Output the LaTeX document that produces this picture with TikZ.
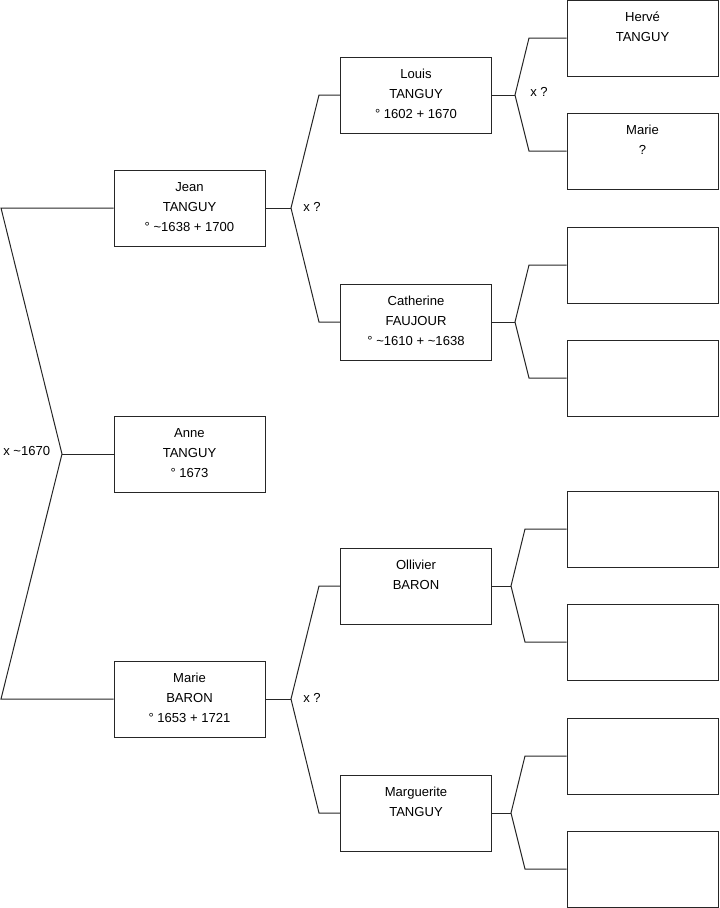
\documentclass[tikz,border=0pt]{standalone}
\usepackage{fontspec}
\setmainfont{Liberation Sans}
\begin{document}
\begin{tikzpicture}[x=0.75pt,y=-0.75pt,
  person/.style={draw=black!85,line width=0.75pt,rectangle,inner sep=0pt,
    minimum width=113.25pt,minimum height=57pt},
  txt/.style={anchor=base,align=center,inner sep=0pt,
    font=\fontsize{9.8pt}{15pt}\selectfont},
  marr/.style={anchor=west,inner sep=0pt,font=\fontsize{9.8pt}{15pt}\selectfont},
  link/.style={draw=black!85,line width=0.75pt}]
\useasboundingbox (0,0) rectangle (719,908);
% generation 1
\node[person] (jean) at (189.5,208) {};
\node[person] (anne) at (189.5,454) {};
\node[person] (marieb) at (189.5,699) {};
% generation 2
\node[person] (louis) at (416,95) {};
\node[person] (cath) at (416,322) {};
\node[person] (oll) at (416,586) {};
\node[person] (marg) at (416,813) {};
% generation 3
\node[person] (herve) at (642.5,38) {};
\node[person] (mariq) at (642.5,151) {};
\node[person] (r3) at (642.5,265) {};
\node[person] (r4) at (642.5,378) {};
\node[person] (r5) at (642.5,529) {};
\node[person] (r6) at (642.5,642) {};
\node[person] (r7) at (642.5,756) {};
\node[person] (r8) at (642.5,869) {};
% texts (base anchor = last line baseline)
\node[txt] (tjean) at ([yshift=-61.5*0.75pt]jean.north) {Jean\\TANGUY\\° \textasciitilde1638 + 1700};
\node[txt] (tanne) at ([yshift=-61.5*0.75pt]anne.north) {Anne\\TANGUY\\° 1673};
\node[txt] (tmarieb) at ([yshift=-61.5*0.75pt]marieb.north) {Marie\\BARON\\° 1653 + 1721};
\node[txt] (tlouis) at ([yshift=-61.5*0.75pt]louis.north) {Louis\\TANGUY\\° 1602 + 1670};
\node[txt] (tcath) at ([yshift=-61.5*0.75pt]cath.north) {Catherine\\FAUJOUR\\° \textasciitilde1610 + \textasciitilde1638};
\node[txt] (toll) at ([yshift=-41.5*0.75pt]oll.north) {Ollivier\\BARON};
\node[txt] (tmarg) at ([yshift=-41.5*0.75pt]marg.north) {Marguerite\\TANGUY};
\node[txt] (therve) at ([yshift=-42*0.75pt]herve.north) {Hervé\\TANGUY};
\node[txt] (tmariq) at ([yshift=-41.5*0.75pt]mariq.north) {Marie\\?};
% junction coordinates
\coordinate (L1) at (1,208);
\coordinate (Lm) at (62,454);
\coordinate (L2) at (1,699);
\coordinate (ja) at (291,208);
\coordinate (jb) at (319,95);
\coordinate (jc) at (319,322);
\coordinate (ma) at (291,699);
\coordinate (mb) at (319,586);
\coordinate (mc) at (319,813);
\coordinate (la) at (515,95);
\coordinate (lb) at (529,38);
\coordinate (lc) at (529,151);
\coordinate (ca) at (515,322);
\coordinate (cb) at (529,265);
\coordinate (cc) at (529,378);
\coordinate (oa) at (511,586);
\coordinate (ob) at (525,529);
\coordinate (oc) at (525,642);
\coordinate (ga) at (511,813);
\coordinate (gb) at (525,756);
\coordinate (gc) at (525,869);
% connectors
\draw[link] (jean.west) -- (L1) -- (Lm) -- (L2) -- (marieb.west);
\draw[link] (Lm) -- (anne.west);
\draw[link] (jean.east) -- (ja);
\draw[link] (louis.west) -- (jb) -- (ja) -- (jc) -- (cath.west);
\draw[link] (marieb.east) -- (ma);
\draw[link] (oll.west) -- (mb) -- (ma) -- (mc) -- (marg.west);
\draw[link] (louis.east) -- (la);
\draw[link] (herve.west) -- (lb) -- (la) -- (lc) -- (mariq.west);
\draw[link] (cath.east) -- (ca);
\draw[link] (r3.west) -- (cb) -- (ca) -- (cc) -- (r4.west);
\draw[link] (oll.east) -- (oa);
\draw[link] (r5.west) -- (ob) -- (oa) -- (oc) -- (r6.west);
\draw[link] (marg.east) -- (ga);
\draw[link] (r7.west) -- (gb) -- (ga) -- (gc) -- (r8.west);
% marriage labels
\node[marr] (x1) at (3,451) {x \textasciitilde1670};
\node[marr] (x2) at (303,207) {x ?};
\node[marr] (x3) at (303,698) {x ?};
\node[marr] (x4) at (530,92) {x ?};
\end{tikzpicture}
\end{document}
